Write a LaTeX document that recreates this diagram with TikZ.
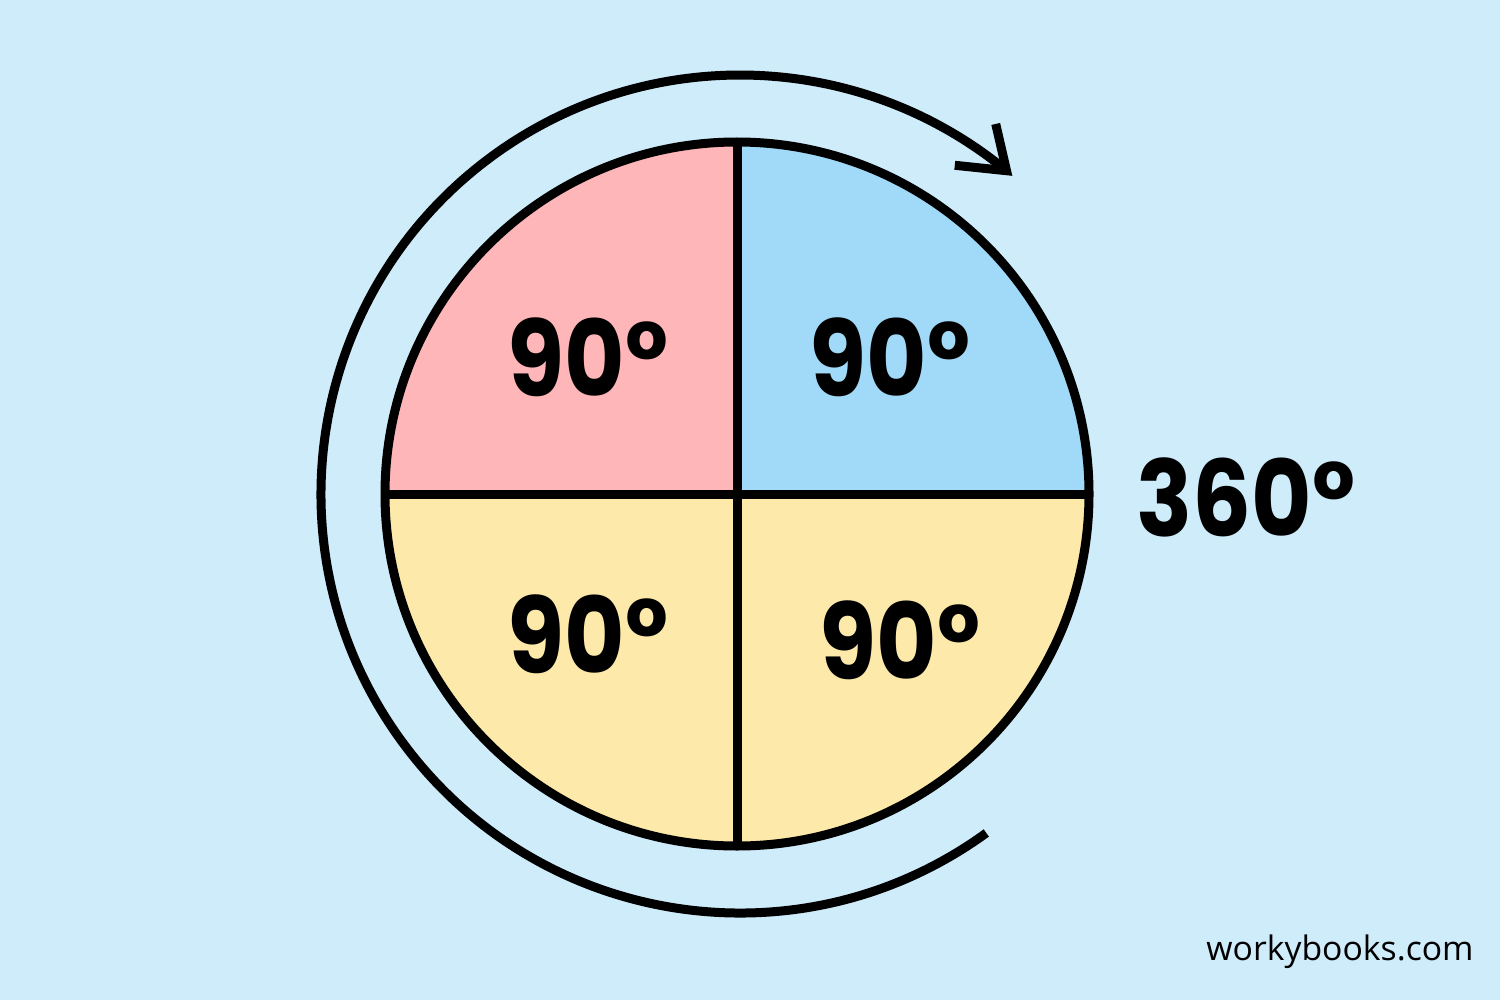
\documentclass[tikz,border=0pt]{standalone}
\usepackage{fontspec}
\setmainfont{Open Sans}
\newfontfamily\numfont{Poppins}[FakeStretch=0.88]
\definecolor{bgblue}{RGB}{206,236,250}
\definecolor{pinkq}{RGB}{255,182,185}
\definecolor{blueq}{RGB}{160,218,248}
\definecolor{yellowq}{RGB}{253,234,170}
\tikzset{
  ink/.style={line width=0.9mm, draw=black},
  degree/.style={font=\numfont\bfseries\fontsize{30}{33}\selectfont, inner sep=0pt},
  barb/.style={ink, line cap=butt, line join=miter}
}
\begin{document}
\begin{tikzpicture}[x=0.1mm, y=0.1mm]
  \fill[bgblue] (0,0) rectangle (1500,1000);
  \useasboundingbox (0,0) rectangle (1500,1000);

  % the circle and its four quarters
  \coordinate (c) at (737,506);
  \fill[pinkq] (c) -- ++(90:352) arc[start angle=90, end angle=180, radius=352] -- cycle;
  \fill[blueq] (c) -- ++(0:352) arc[start angle=0, end angle=90, radius=352] -- cycle;
  \fill[yellowq] (c) -- ++(180:352) arc[start angle=180, end angle=360, radius=352] -- cycle;
  \draw[ink] (c) circle[radius=352];
  \coordinate (top) at (737,858);
  \coordinate (bottom) at (737,154);
  \coordinate (left) at (385,506);
  \coordinate (right) at (1089,506);
  \draw[ink] (top) -- (bottom);
  \draw[ink] (left) -- (right);

  \node[degree] (q1) at (588,643) {90°};
  \node[degree] (q2) at (890,643) {90°};
  \node[degree] (q3) at (588,366) {90°};
  \node[degree] (q4) at (900,360) {90°};

  % full turn
  \coordinate (oc) at (740,506);
  \coordinate (arcstart) at ([shift={(-54:419)}]oc);
  \coordinate (tip) at ([shift={(-309.5:419)}]oc);
  \draw[ink, line cap=butt] (arcstart) arc[start angle=-54, end angle=-309.5, radius=419];
  \draw[barb] ([shift={(103:48)}]tip) -- (tip) -- ([shift={(174:52)}]tip);
  \node[degree] (full) at (1246,503) {360°};

  \node[font=\fontsize{9.6}{11}\selectfont, inner sep=0pt] (brand) at (1340,48) {workybooks.com};
\end{tikzpicture}
\end{document}
